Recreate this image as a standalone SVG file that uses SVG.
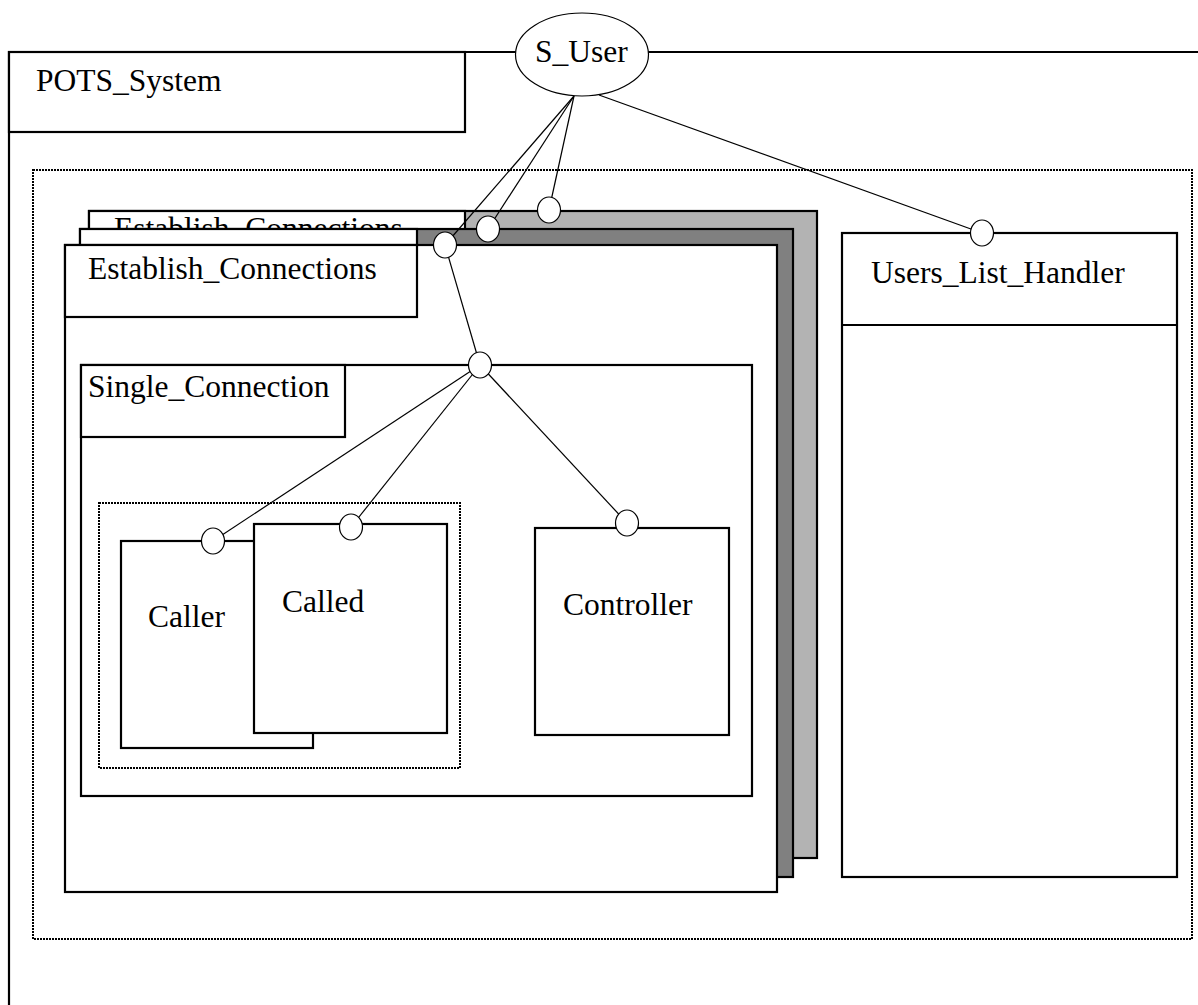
<svg xmlns="http://www.w3.org/2000/svg" width="1198" height="1005" viewBox="0 0 1198 1005">
<style>
.box{fill:#fff;stroke:#000;stroke-width:2.2}
.dot{fill:none;stroke:#000;stroke-width:2;stroke-dasharray:2 1}
.port{fill:#fff;stroke:#000;stroke-width:1.2}
.ln{stroke:#000;stroke-width:1.2;fill:none}
text{font-family:"Liberation Serif","Times New Roman",serif;font-size:31.5px;fill:#000}
</style>
<rect width="1198" height="1005" fill="#fff"/>
<g id="pots_system">
<path class="box" d="M9 1010 V52 H1205" fill="none"/>
<rect class="box" x="9" y="52" width="456" height="80"/>
<text x="36" y="91">POTS_System</text>
</g>
<g id="outer_group">
<rect class="dot" x="33" y="170" width="1159" height="769"/>
</g>
<g id="establish_back">
<rect class="box" x="89" y="211" width="728" height="647" style="fill:#b3b3b3"/>
<rect class="box" x="89" y="211" width="376" height="60"/>
<text x="114" y="239">Establish_Connections</text>
</g>
<g id="establish_middle">
<rect class="box" x="80" y="229" width="713" height="648" style="fill:#808080"/>
<rect class="box" x="80" y="229" width="337" height="60"/>
</g>
<g id="establish_front">
<rect class="box" x="65" y="245" width="712" height="647"/>
<rect class="box" x="65" y="245" width="352" height="72"/>
<text x="88" y="279">Establish_Connections</text>
</g>
<g id="single_connection">
<rect class="box" x="81" y="365" width="671" height="431"/>
<rect class="box" x="81" y="365" width="264" height="72"/>
<text x="88" y="397">Single_Connection</text>
</g>
<g id="inner_group">
<rect class="dot" x="99" y="503" width="361" height="265"/>
</g>
<g id="caller">
<rect class="box" x="121" y="541" width="192" height="207"/>
<text x="148" y="627">Caller</text>
</g>
<g id="called">
<rect class="box" x="254" y="524" width="193" height="209"/>
<text x="282" y="612">Called</text>
</g>
<g id="controller">
<rect class="box" x="535" y="528" width="194" height="207"/>
<text x="563" y="615">Controller</text>
</g>
<g id="users_list_handler">
<rect class="box" x="842" y="233" width="335" height="644"/>
<line class="box" x1="842" y1="325" x2="1177" y2="325"/>
<text x="871" y="283">Users_List_Handler</text>
</g>
<g id="connectors">
<line class="ln" x1="574" y1="96" x2="549" y2="210"/>
<line class="ln" x1="574" y1="96" x2="488" y2="229"/>
<line class="ln" x1="574" y1="96" x2="445" y2="245"/>
<line class="ln" x1="599" y1="95" x2="982" y2="233"/>
<line class="ln" x1="445" y1="245" x2="480" y2="365"/>
<line class="ln" x1="480" y1="365" x2="213" y2="541"/>
<line class="ln" x1="480" y1="365" x2="351" y2="527"/>
<line class="ln" x1="480" y1="365" x2="627" y2="523"/>
</g>
<g id="ports">
<ellipse class="port" cx="549" cy="210" rx="11.5" ry="13"/>
<ellipse class="port" cx="488" cy="229" rx="11.5" ry="13"/>
<ellipse class="port" cx="445" cy="245" rx="11.5" ry="13"/>
<ellipse class="port" cx="982" cy="233" rx="11.5" ry="13"/>
<ellipse class="port" cx="480" cy="365" rx="11.5" ry="13"/>
<ellipse class="port" cx="213" cy="541" rx="11.5" ry="13"/>
<ellipse class="port" cx="351" cy="527" rx="11.5" ry="13"/>
<ellipse class="port" cx="627" cy="523" rx="11.5" ry="13"/>
</g>
<g id="s_user">
<ellipse class="port" cx="582" cy="54.5" rx="66.5" ry="41.5"/>
<text x="535" y="62">S_User</text>
</g>
</svg>
